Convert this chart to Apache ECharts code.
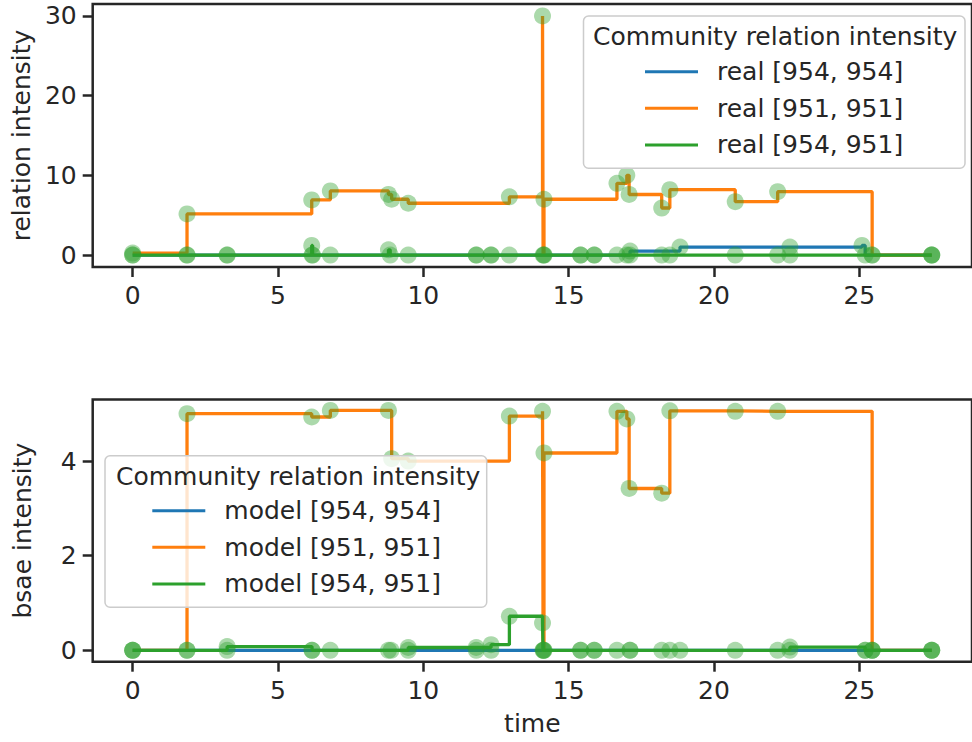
<!DOCTYPE html>
<html>
<head>
<meta charset="utf-8">
<script src="https://cdn.jsdelivr.net/npm/echarts@6/dist/echarts.min.js"></script>
<style>
  html, body { margin: 0; padding: 0; background: #ffffff; }
  #chart { width: 972px; height: 742px; }
</style>
</head>
<body>
<div id="chart"></div>
<script>
// Tick positions
const xTicks = [0, 5, 10, 15, 20, 25];
const realYTicks = [0, 10, 20, 30];
const modelYTicks = [0, 2, 4];

// Legend labels
const realNames = ['real [954, 954]', 'real [951, 951]', 'real [954, 951]'];
const modelNames = ['model [954, 954]', 'model [951, 951]', 'model [954, 951]'];
const legendTitle = 'Community relation intensity';

// Observed intensity, pair [954, 954]
const realT954 = [0, 1.87, 3.25, 6.17, 11.82, 12.33, 14.15, 15.41, 15.88, 17.0, 17.11, 18.83, 22.61, 25.09, 25.2, 27.49];
const realV954 = [0, 0, 0, 0, 0, 0, 0, 0, 0, 0, 0.5, 1.0, 1.0, 1.2, 0, 0];
// Observed intensity, pair [951, 951]
const realT951 = [0, 1.87, 6.16, 6.80, 8.80, 8.91, 9.48, 12.96, 14.10, 14.12, 14.15, 16.66, 17.00, 17.08, 18.20, 18.48, 20.73, 22.19, 25.44, 27.49];
const realV951 = [0.25, 5.16, 6.92, 8.05, 7.6, 7.0, 6.5, 7.3, 30.0, 0, 7.0, 9.0, 10.0, 7.6, 5.9, 8.2, 6.7, 7.95, 0, 0];
// Observed intensity, pair [954, 951]
const realTCross = [0, 1.87, 3.25, 6.16, 6.19, 6.80, 8.80, 8.86, 9.48, 11.82, 12.33, 12.96, 14.15, 15.41, 15.88, 16.66, 17.11, 18.20, 18.48, 20.73, 22.19, 22.61, 25.44, 27.49];
const realVCross = [0, 0, 0, 1.2, 0, 0, 0.65, 0, 0, 0, 0, 0, 0, 0, 0, 0, 0, 0, 0, 0, 0, 0, 0, 0];

// Model intensity, pair [954, 954]
const modelT954 = [0, 1.87, 3.25, 6.17, 8.89, 9.48, 11.82, 12.33, 14.15, 15.41, 15.88, 17.11, 18.83, 22.61, 25.2, 25.44, 27.49];
const modelV954 = [0, 0, 0, 0, 0, 0, 0, 0, 0, 0, 0, 0, 0, 0, 0, 0, 0];
// Model intensity, pair [951, 951]
const modelT951 = [0, 1.87, 6.16, 6.80, 8.80, 8.91, 9.48, 12.96, 14.10, 14.12, 14.15, 16.66, 17.00, 17.08, 18.20, 18.48, 20.73, 22.19, 25.44, 27.49];
const modelV951 = [0, 5.00, 4.93, 5.07, 5.07, 4.05, 4.00, 4.95, 5.05, 0, 4.17, 5.05, 4.89, 3.42, 3.32, 5.06, 5.05, 5.05, 0, 0];
// Model intensity, pair [954, 951]
const modelTCross = [0, 1.87, 3.25, 6.17, 6.80, 8.80, 9.48, 11.82, 12.33, 12.96, 14.10, 14.12, 14.15, 15.41, 15.88, 16.66, 17.11, 18.20, 18.48, 20.73, 22.19, 22.61, 25.2, 25.44, 27.49];
const modelVCross = [0, 0, 0.08, 0, 0, 0, 0.06, 0.06, 0.12, 0.72, 0.58, 0, 0, 0, 0, 0, 0, 0, 0, 0, 0, 0.07, 0, 0, 0];

const lineColors = ['#1f77b4', '#ff7f0e', '#2ca02c'];
const dotColor = 'rgba(44,160,44,0.5)';
const ink = '#262626';
const font = 'DejaVu Sans';
const fs = 25;

function pairs(t, v) { return t.map((x, i) => [x, v[i]]); }

const panels = [
  { names: realNames, sets: [[realT954, realV954], [realT951, realV951], [realTCross, realVCross]] },
  { names: modelNames, sets: [[modelT954, modelV954], [modelT951, modelV951], [modelTCross, modelVCross]] }
];

// Step lines first, then the event markers on top of them
const series = [];
panels.forEach((p, pi) => {
  p.sets.forEach((s, si) => {
    series.push({
      type: 'line', name: p.names[si], xAxisIndex: pi, yAxisIndex: pi,
      data: pairs(s[0], s[1]), step: 'end', showSymbol: false, symbol: 'none',
      lineStyle: { width: 3.3, color: lineColors[si] }, itemStyle: { color: lineColors[si] },
      z: 1, silent: true
    });
  });
  p.sets.forEach((s) => {
    series.push({
      type: 'scatter', xAxisIndex: pi, yAxisIndex: pi,
      data: pairs(s[0], s[1]), symbolSize: 17,
      itemStyle: { color: dotColor }, z: 2, silent: true
    });
  });
});

function xAxisFor(gi, withName) {
  return {
    type: 'value', gridIndex: gi, min: -1.375, max: 28.875,
    axisLine: { show: false, onZero: false },
    axisTick: { show: true, inside: false, length: 10, customValues: xTicks, lineStyle: { color: ink, width: 2.5 } },
    axisLabel: { customValues: xTicks, fontSize: fs, fontFamily: font, color: ink, margin: 16 },
    splitLine: { show: false },
    name: withName ? 'time' : '', nameLocation: 'middle', nameGap: 49,
    nameTextStyle: { fontSize: fs, fontFamily: font, color: ink }
  };
}
function yAxisFor(gi, min, max, ticks, name) {
  return {
    type: 'value', gridIndex: gi, min: min, max: max,
    axisLine: { show: false, onZero: false },
    axisTick: { show: true, inside: false, length: 10, customValues: ticks, lineStyle: { color: ink, width: 2.5 } },
    axisLabel: { customValues: ticks, fontSize: fs, fontFamily: font, color: ink, margin: 16 },
    splitLine: { show: false },
    name: name, nameLocation: 'middle', nameGap: 58, nameRotate: 90,
    nameTextStyle: { fontSize: fs, fontFamily: font, color: ink }
  };
}
function legendFor(names, left, top) {
  return {
    data: names, orient: 'vertical', left: left, top: top, padding: 0,
    itemWidth: 53, itemHeight: 3, itemGap: 0, icon: 'rect', selectedMode: false,
    textStyle: { fontSize: fs, fontFamily: font, color: ink, lineHeight: 36.6, padding: [0, 0, 0, 14] },
    z: 4
  };
}
// Semi-transparent legend frame with its heading
function legendBox(x, y, w, h, titleX, titleY) {
  return [
    { type: 'rect', z: 3, silent: true,
      shape: { x: x, y: y, width: w, height: h, r: 5 },
      style: { fill: 'rgba(255,255,255,0.8)', stroke: '#cccccc', lineWidth: 1.5 } },
    { type: 'text', z: 5, silent: true, x: titleX, y: titleY,
      style: { text: legendTitle, fontSize: fs, fontFamily: font, fill: ink, verticalAlign: 'middle', align: 'left' } }
  ];
}

const chart = echarts.init(document.getElementById('chart'), null, { renderer: 'svg', width: 972, height: 742 });
chart.setOption({
  animation: false,
  backgroundColor: '#ffffff',
  grid: [
    { left: 92.7, top: 4, right: -5.5, height: 263, show: true, borderColor: ink, borderWidth: 2.5, backgroundColor: 'transparent' },
    { left: 92.7, top: 399.5, right: -5.5, height: 262.2, show: true, borderColor: ink, borderWidth: 2.5, backgroundColor: 'transparent' }
  ],
  xAxis: [xAxisFor(0, false), xAxisFor(1, true)],
  yAxis: [
    yAxisFor(0, -1.5, 31.5, realYTicks, 'relation intensity'),
    yAxisFor(1, -0.24, 5.30, modelYTicks, 'bsae intensity')
  ],
  legend: [legendFor(realNames, 645, 53.4), legendFor(modelNames, 152.3, 492.4)],
  graphic: { elements: legendBox(583.5, 16, 381.5, 152.3, 593, 36.7).concat(legendBox(105, 455.7, 381.7, 151.6, 116, 476)) },
  series: series
});
</script>
</body>
</html>
